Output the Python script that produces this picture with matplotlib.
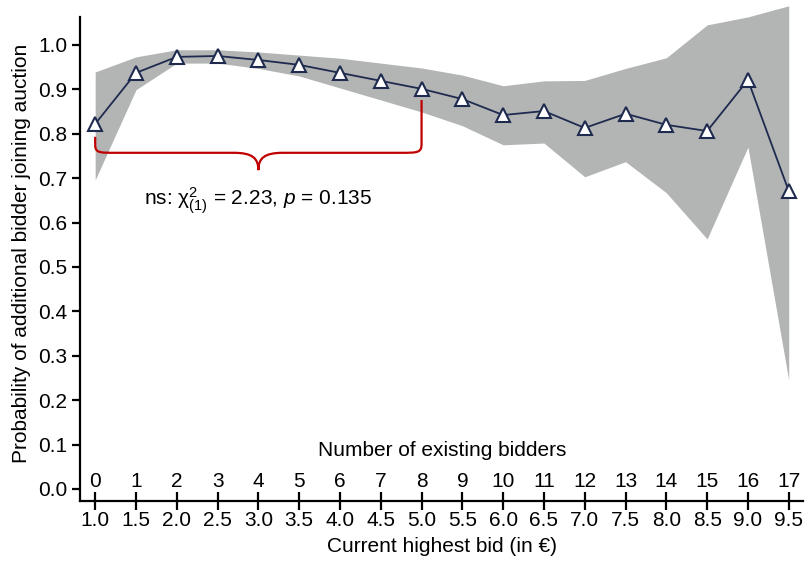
import numpy as np
import matplotlib
matplotlib.use('Agg')
import matplotlib.pyplot as plt
from matplotlib.path import Path
from matplotlib.patches import PathPatch
from matplotlib import transforms

plt.rcParams['font.family'] = ['Liberation Sans', 'DejaVu Sans']
plt.rcParams['mathtext.fontset'] = 'custom'
plt.rcParams['mathtext.rm'] = 'Liberation Sans'
plt.rcParams['mathtext.it'] = 'Liberation Sans:italic'

# data
bidders = list(range(18))
bids = ['1.0', '1.5', '2.0', '2.5', '3.0', '3.5', '4.0', '4.5', '5.0',
        '5.5', '6.0', '6.5', '7.0', '7.5', '8.0', '8.5', '9.0', '9.5']
prob = [0.822, 0.937, 0.973, 0.975, 0.966, 0.955, 0.937, 0.919, 0.901,
        0.878, 0.842, 0.851, 0.813, 0.845, 0.820, 0.806, 0.921, 0.671]
upper = [0.939, 0.973, 0.989, 0.989, 0.984, 0.977, 0.970, 0.959, 0.948,
         0.932, 0.908, 0.919, 0.920, 0.947, 0.971, 1.045, 1.063, 1.088]
lower = [0.696, 0.899, 0.959, 0.959, 0.947, 0.930, 0.903, 0.876, 0.849,
         0.818, 0.775, 0.779, 0.703, 0.737, 0.667, 0.563, 0.770, 0.245]
stat_text = r'ns: χ$^{2}_{(1)}$ = 2.23, $p$ = 0.135'

navy = '#1f2a4f'
band = '#b3b5b5'
red = '#c00000'
fs = 15

fig = plt.figure(figsize=(8.09, 5.65), dpi=100)
ax = fig.add_axes([0.099, 0.1133, 0.8936, 0.878])

ax.fill_between(bidders, lower, upper, color=band, linewidth=0, zorder=1)
ax.plot(bidders, prob, color=navy, linewidth=1.3, marker='^', markersize=9.5,
        markerfacecolor='white', markeredgecolor=navy, markeredgewidth=1.5,
        zorder=3, clip_on=False)

ax.set_xlim(-0.37, 17.35)
ax.set_ylim(-0.027, 1.09)

for s in ['top', 'right']:
    ax.spines[s].set_visible(False)
for s in ['left', 'bottom']:
    ax.spines[s].set_linewidth(1.6)
ax.spines['left'].set_bounds(-0.027, 1.063)

ax.set_yticks(np.arange(0, 1.01, 0.1))
ax.set_yticklabels([f'{v:.1f}' for v in np.arange(0, 1.01, 0.1)])
ax.tick_params(axis='y', direction='out', length=6, width=1.6, labelsize=fs, pad=3)

ax.set_xticks(bidders)
ax.set_xticklabels(bids)
ax.tick_params(axis='x', direction='inout', length=13, width=1.6, labelsize=fs, pad=1)

# number of bidders labels above the axis line
trans = transforms.blended_transform_factory(ax.transData, ax.transAxes)
for b in bidders:
    ax.text(b, 0.039, str(b), transform=trans, ha='center', va='center', fontsize=fs)
ax.text(np.mean(bidders), 0.101, 'Number of existing bidders', transform=trans,
        ha='center', va='center', fontsize=fs)

ax.set_xlabel('Current highest bid (in €)', fontsize=fs, labelpad=5)
ax.set_ylabel('Probability of additional bidder joining auction', fontsize=fs, labelpad=5)

# brace between bidders 0 and 8
x0, x1 = bidders[0], bidders[8]
xm = (x0 + x1) / 2
yh = 0.757
ytip = 0.718
yl = prob[0] - 0.029
yr = prob[8] - 0.025
verts = [(x0, yl), (x0, yh + 0.018),
         (x0, yh), (x0 + 0.1, yh), (x0 + 0.5, yh),
         (xm - 0.6, yh),
         (xm - 0.15, yh), (xm, yh - 0.012), (xm, ytip),
         (xm, yh - 0.012), (xm + 0.15, yh), (xm + 0.6, yh),
         (x1 - 0.5, yh),
         (x1 - 0.1, yh), (x1, yh), (x1, yh + 0.02),
         (x1, yr)]
codes = [Path.MOVETO, Path.LINETO,
         Path.CURVE4, Path.CURVE4, Path.CURVE4,
         Path.LINETO,
         Path.CURVE4, Path.CURVE4, Path.CURVE4,
         Path.CURVE4, Path.CURVE4, Path.CURVE4,
         Path.LINETO,
         Path.CURVE4, Path.CURVE4, Path.CURVE4,
         Path.LINETO]
ax.add_patch(PathPatch(Path(verts, codes), facecolor='none', edgecolor=red,
                       linewidth=1.6, zorder=2))
ax.text(xm, 0.649, stat_text, ha='center', va='center', fontsize=fs)

fig.savefig('out.png', dpi=100)
